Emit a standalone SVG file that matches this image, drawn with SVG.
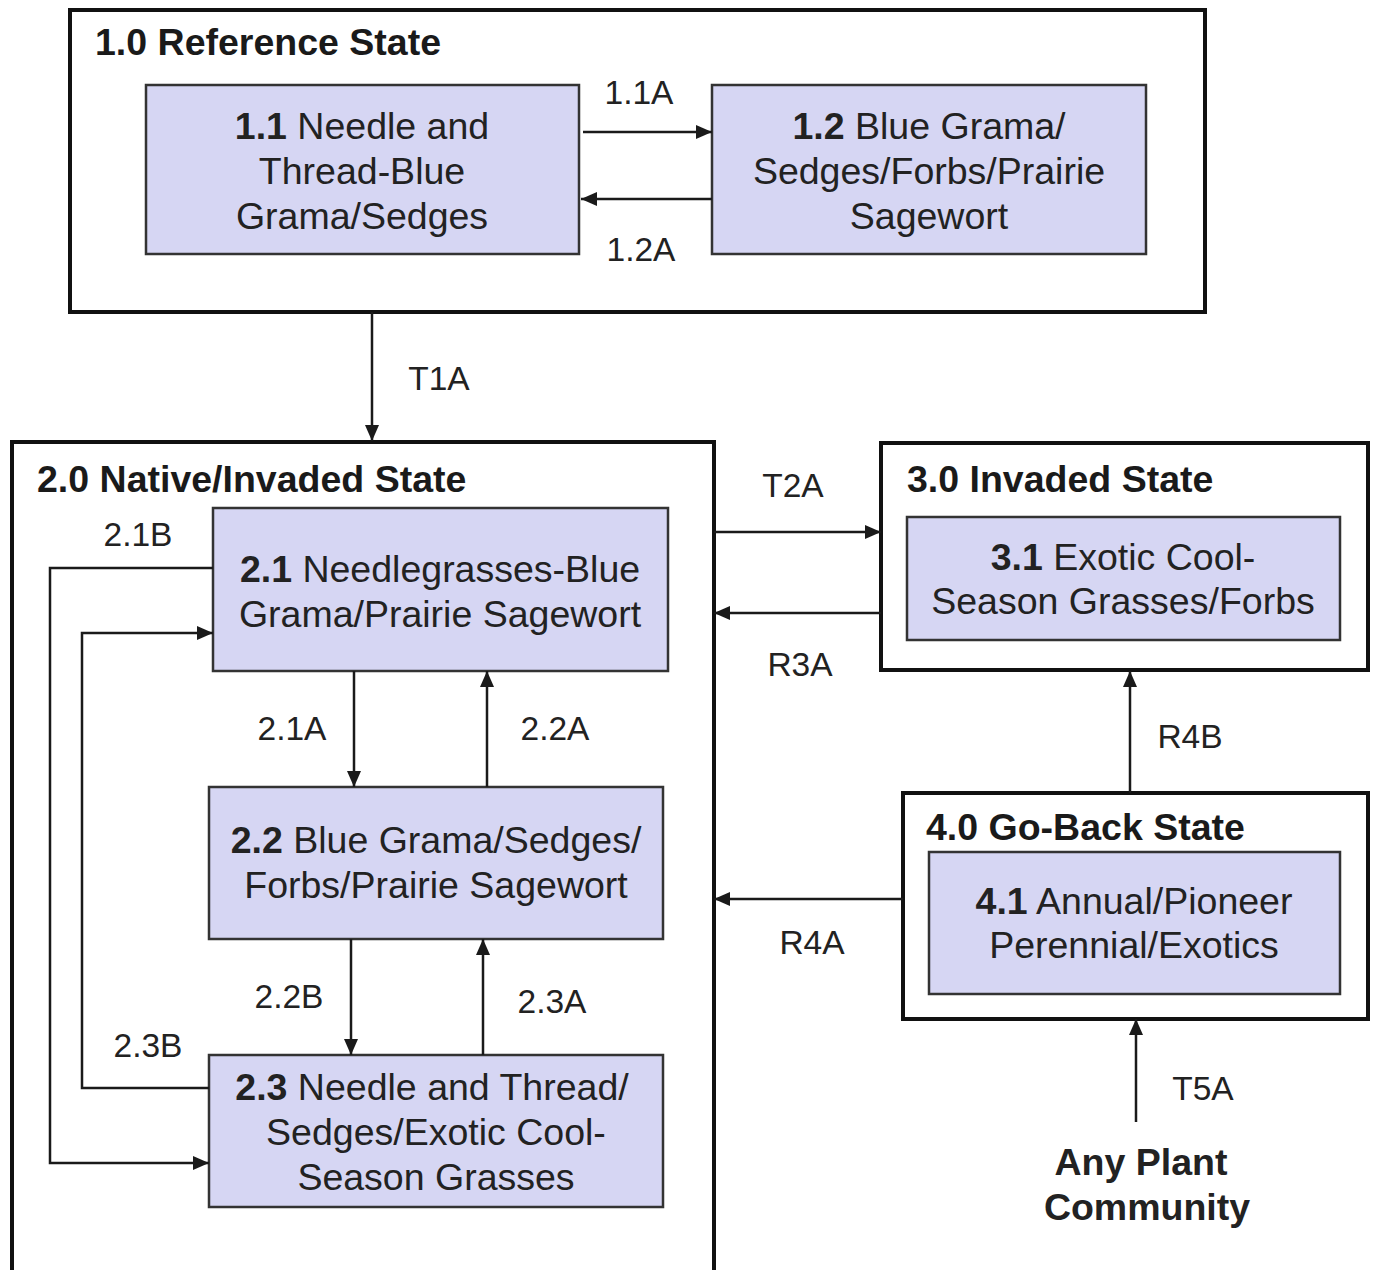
<svg xmlns="http://www.w3.org/2000/svg" width="1375" height="1270" viewBox="0 0 1375 1270">
<defs>
<marker id="ah" viewBox="0 0 16 14" refX="16" refY="7" markerWidth="16" markerHeight="14" markerUnits="userSpaceOnUse" orient="auto">
<path d="M0,0 L16,7 L0,14 Z" fill="#1a1a1a"/>
</marker>
<style>
.state{fill:#fff;stroke:#111;stroke-width:4}
.comm{fill:#d6d6f3;stroke:#333;stroke-width:2.5}
.st{font-family:"Liberation Sans",Arial,sans-serif;font-weight:bold;font-size:37.5px;fill:#1a1a1a}
.ct{font-family:"Liberation Sans",Arial,sans-serif;font-size:37.5px;fill:#222;text-anchor:middle}
.ct tspan.b{font-weight:bold}
.lb{font-family:"Liberation Sans",Arial,sans-serif;font-size:33.5px;fill:#222;text-anchor:middle}
.cn{fill:none;stroke:#1a1a1a;stroke-width:2.5}
.cn .a{marker-end:url(#ah)}
</style>
</defs>
<rect width="1375" height="1270" fill="#fff"/>

<g id="state1">
<rect class="state" x="70" y="10" width="1135" height="302"/>
<text class="st" x="95" y="55">1.0 Reference State</text>
</g>
<g id="state2">
<rect class="state" x="12" y="442" width="702" height="850"/>
<text class="st" x="37" y="492">2.0 Native/Invaded State</text>
</g>
<g id="state3">
<rect class="state" x="881" y="443" width="487" height="227"/>
<text class="st" x="907" y="492">3.0 Invaded State</text>
</g>
<g id="state4">
<rect class="state" x="903" y="793" width="465" height="226"/>
<text class="st" x="926" y="840">4.0 Go-Back State</text>
</g>

<g id="c11">
<rect class="comm" x="146" y="85" width="433" height="169"/>
<text class="ct" x="362" y="139"><tspan class="b">1.1</tspan> Needle and</text>
<text class="ct" x="362" y="184">Thread-Blue</text>
<text class="ct" x="362" y="229">Grama/Sedges</text>
</g>
<g id="c12">
<rect class="comm" x="712" y="85" width="434" height="169"/>
<text class="ct" x="929" y="139"><tspan class="b">1.2</tspan> Blue Grama/</text>
<text class="ct" x="929" y="184">Sedges/Forbs/Prairie</text>
<text class="ct" x="929" y="229">Sagewort</text>
</g>
<g id="c21">
<rect class="comm" x="213" y="508" width="455" height="163"/>
<text class="ct" x="440" y="582"><tspan class="b">2.1</tspan> Needlegrasses-Blue</text>
<text class="ct" x="440" y="627">Grama/Prairie Sagewort</text>
</g>
<g id="c22">
<rect class="comm" x="209" y="787" width="454" height="152"/>
<text class="ct" x="436" y="853"><tspan class="b">2.2</tspan> Blue Grama/Sedges/</text>
<text class="ct" x="436" y="898">Forbs/Prairie Sagewort</text>
</g>
<g id="c23">
<rect class="comm" x="209" y="1055" width="454" height="152"/>
<text class="ct" x="432" y="1100"><tspan class="b">2.3</tspan> Needle and Thread/</text>
<text class="ct" x="436" y="1145">Sedges/Exotic Cool-</text>
<text class="ct" x="436" y="1190">Season Grasses</text>
</g>
<g id="c31">
<rect class="comm" x="907" y="517" width="433" height="123"/>
<text class="ct" x="1123" y="570"><tspan class="b">3.1</tspan> Exotic Cool-</text>
<text class="ct" x="1123" y="614">Season Grasses/Forbs</text>
</g>
<g id="c41">
<rect class="comm" x="929" y="852" width="411" height="142"/>
<text class="ct" x="1134" y="914"><tspan class="b">4.1</tspan> Annual/Pioneer</text>
<text class="ct" x="1134" y="958">Perennial/Exotics</text>
</g>
<g id="any">
<text class="ct" x="1141" y="1175" font-weight="bold">Any Plant</text>
<text class="ct" x="1147" y="1220" font-weight="bold">Community</text>
</g>

<g id="connectors" class="cn">
<path class="a" d="M583,132 H712"/>
<path class="a" d="M712,199 H581"/>
<path class="a" d="M372,312 V441"/>
<path class="a" d="M354,671 V787"/>
<path class="a" d="M487,787 V671"/>
<path class="a" d="M351,939 V1055"/>
<path class="a" d="M483,1055 V939"/>
<path class="a" d="M213,568 H50 V1163 H209"/>
<path class="a" d="M209,1088 H82 V633 H213"/>
<path class="a" d="M714,532 H881"/>
<path class="a" d="M881,613 H714"/>
<path class="a" d="M1130,793 V671"/>
<path class="a" d="M903,899 H714"/>
<path class="a" d="M1136,1122 V1019"/>
</g>

<g id="labels">
<text class="lb" x="639" y="104">1.1A</text>
<text class="lb" x="641" y="261">1.2A</text>
<text class="lb" x="439" y="390">T1A</text>
<text class="lb" x="292" y="740">2.1A</text>
<text class="lb" x="555" y="740">2.2A</text>
<text class="lb" x="289" y="1008">2.2B</text>
<text class="lb" x="552" y="1013">2.3A</text>
<text class="lb" x="138" y="546">2.1B</text>
<text class="lb" x="148" y="1057">2.3B</text>
<text class="lb" x="793" y="497">T2A</text>
<text class="lb" x="800" y="676">R3A</text>
<text class="lb" x="1190" y="748">R4B</text>
<text class="lb" x="812" y="954">R4A</text>
<text class="lb" x="1203" y="1100">T5A</text>
</g>
</svg>
